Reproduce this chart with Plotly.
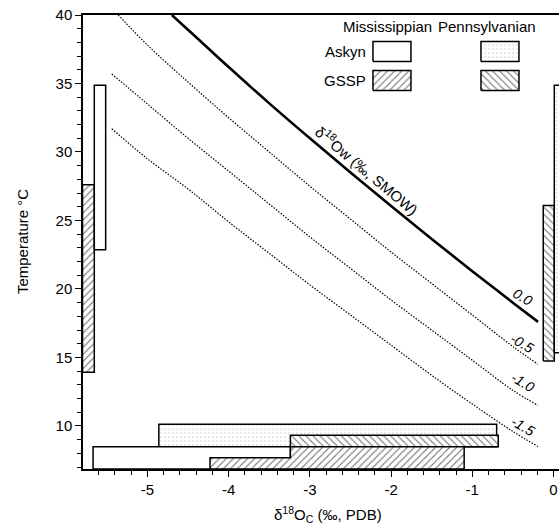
import plotly.graph_objects as go

# ---------------- data ----------------
# Temperature ranges (deg C)
miss_askyn_T = [22.86, 34.87]
miss_gssp_T = [13.92, 27.61]
penn_askyn_T = [15.35, 34.87]
penn_gssp_T = [14.74, 26.10]

# d18O carbonate ranges (permil PDB)
miss_askyn_O = [-5.67, -3.24]
miss_gssp_O = [-4.23, -1.10]
penn_askyn_O = [-4.86, -0.70]
penn_gssp_O = [-3.24, -0.68]

# d18O water isolines (x = d18Oc, y = temperature)
iso_labels = ["0.0", "-0.5", "-1.0", "-1.5"]
iso0_x = [-4.70, -4.4, -4.0, -3.5, -3.0, -2.5, -2.0, -1.5, -1.0, -0.5, -0.19]
iso0_y = [40.0, 38.38, 36.2, 33.55, 31.0, 28.5, 26.05, 23.65, 21.3, 19.0, 17.6]
iso1_x = [-5.36, -5.0, -4.5, -4.0, -3.5, -3.0, -2.5, -2.0, -1.5, -1.0, -0.5, -0.19]
iso1_y = [40.0, 37.8, 35.1, 32.5, 30.0, 27.5, 25.1, 22.7, 20.4, 18.1, 15.8, 14.5]
iso2_x = [-5.44, -5.0, -4.5, -4.0, -3.5, -3.0, -2.5, -2.0, -1.5, -1.0, -0.5, -0.19]
iso2_y = [35.7, 33.5, 31.0, 28.6, 26.2, 23.8, 21.5, 19.2, 17.0, 14.8, 12.6, 11.5]
iso3_x = [-5.44, -5.0, -4.5, -4.0, -3.5, -3.0, -2.5, -2.0, -1.5, -1.0, -0.5, -0.19]
iso3_y = [31.7, 29.5, 27.3, 24.9, 22.6, 20.3, 18.1, 15.9, 13.7, 11.6, 9.6, 8.5]

x_tick_vals = [-5, -4, -3, -2, -1, 0]
x_tick_text = ["-5", "-4", "-3", "-2", "-1", "0"]
y_tick_vals = [10, 15, 20, 25, 30, 35, 40]

# ---------------- layout constants ----------------
XR = [-5.794, 0.068]
YR = [6.86, 40.0]
FONT = "Liberation Sans, Arial, sans-serif"

PAT_MISS_GSSP = dict(shape="/", size=5, solidity=0.22, fgcolor="black", bgcolor="white")
PAT_PENN_GSSP = dict(shape="\\", size=5, solidity=0.22, fgcolor="black", bgcolor="white")
PAT_PENN_ASKYN = dict(shape=".", size=4, solidity=0.06, fgcolor="#333333", bgcolor="white")

fig = go.Figure()


def poly(xs, ys, pattern=None):
    kw = dict(x=xs + [xs[0]], y=ys + [ys[0]], mode="lines", fill="toself",
              fillcolor="white", line=dict(color="black", width=1.5),
              hoverinfo="skip", showlegend=False)
    if pattern is not None:
        kw["fillpattern"] = pattern
    fig.add_trace(go.Scatter(**kw))


def rect(x0, x1, y0, y1, pattern=None):
    poly([x0, x0, x1, x1], [y0, y1, y1, y0], pattern)


# isolines
fig.add_trace(go.Scatter(x=iso0_x, y=iso0_y, mode="lines",
                         line=dict(color="black", width=2.6, shape="spline"),
                         hoverinfo="skip", showlegend=False))
for xs, ys in [(iso1_x, iso1_y), (iso2_x, iso2_y), (iso3_x, iso3_y)]:
    fig.add_trace(go.Scatter(x=xs, y=ys, mode="lines",
                             line=dict(color="black", width=1.2, dash="1.5px,1.5px", shape="spline"),
                             hoverinfo="skip", showlegend=False))

# vertical temperature bars (left: Mississippian, right: Pennsylvanian)
rect(-5.80, -5.655, miss_gssp_T[0], miss_gssp_T[1], PAT_MISS_GSSP)
rect(-5.655, -5.515, miss_askyn_T[0], miss_askyn_T[1])
rect(-0.126, 0.010, penn_gssp_T[0], penn_gssp_T[1], PAT_PENN_GSSP)
rect(0.010, 0.150, penn_askyn_T[0], penn_askyn_T[1], PAT_PENN_ASKYN)

# horizontal d18O bars along the bottom
rect(penn_askyn_O[0], penn_askyn_O[1], 8.48, 10.12, PAT_PENN_ASKYN)
rect(penn_gssp_O[0], penn_gssp_O[1], 8.48, 9.33, PAT_PENN_GSSP)
rect(miss_askyn_O[0], miss_askyn_O[1], YR[0], 8.48)
poly([miss_gssp_O[0], miss_gssp_O[0], miss_askyn_O[1], miss_askyn_O[1], miss_gssp_O[1], miss_gssp_O[1]],
     [YR[0], 7.68, 7.68, 8.48, 8.48, YR[0]], PAT_MISS_GSSP)

# legend boxes
rect(-2.223, -1.755, 36.60, 38.06)
rect(-2.223, -1.755, 34.48, 35.94, PAT_MISS_GSSP)
rect(-0.893, -0.425, 36.60, 38.06, PAT_PENN_ASKYN)
rect(-0.893, -0.425, 34.48, 35.94, PAT_PENN_GSSP)

ann = []
tf = dict(family=FONT, size=15, color="black")
ann.append(dict(x=-2.04, y=39.16, text="Mississippian", showarrow=False, font=tf, xanchor="center", yanchor="middle"))
ann.append(dict(x=-0.82, y=39.16, text="Pennsylvanian", showarrow=False, font=tf, xanchor="center", yanchor="middle"))
ann.append(dict(x=-2.29, y=37.33, text="Askyn", showarrow=False, font=tf, xanchor="right", yanchor="middle"))
ann.append(dict(x=-2.29, y=35.21, text="GSSP", showarrow=False, font=tf, xanchor="right", yanchor="middle"))

# isoline labels
lf = dict(family=FONT, size=14, color="black")
for lab, (lx, ly) in zip(iso_labels, [(-0.376, 19.42), (-0.392, 16.04), (-0.38, 13.23), (-0.38, 10.01)]):
    ann.append(dict(x=lx, y=ly, text="<i>%s</i>" % lab, showarrow=False, font=lf, textangle=30,
                    xanchor="center", yanchor="middle"))

ann.append(dict(x=-2.30, y=28.7, text="δ<sup>18</sup>Ow (‰, SMOW)", showarrow=False,
                font=dict(family=FONT, size=15, color="black"), textangle=40,
                xanchor="center", yanchor="middle"))

# axis titles
ann.append(dict(xref="paper", yref="paper", x=-0.128, y=0.5, text="Temperature °C", showarrow=False,
                font=tf, textangle=-90, xanchor="center", yanchor="middle"))
ann.append(dict(xref="paper", yref="paper", x=0.515, y=-0.101, text="δ<sup>18</sup>O<sub>C</sub> (‰, PDB)",
                showarrow=False, font=tf, xanchor="center", yanchor="middle"))

fig.update_layout(
    width=559, height=529,
    margin=dict(l=83, r=0, t=15, b=60, pad=0),
    paper_bgcolor="white", plot_bgcolor="white",
    font=dict(family=FONT, size=15, color="black"),
    annotations=ann,
    xaxis=dict(range=XR, showgrid=False, zeroline=False, showline=True, linecolor="black", linewidth=1.5,
               mirror=True, ticks="outside", ticklen=6, tickwidth=1.2, tickcolor="black",
               tickmode="array", tickvals=x_tick_vals, ticktext=x_tick_text,
               ticklabeloverflow="allow",
               tickfont=dict(family=FONT, size=15, color="black"),
               minor=dict(tickmode="linear", tick0=0, dtick=0.2, ticks="outside", ticklen=4,
                          tickwidth=1, tickcolor="black")),
    yaxis=dict(range=YR, showgrid=False, zeroline=False, showline=True, linecolor="black", linewidth=1.5,
               ticks="outside", ticklen=6, tickwidth=1.2, tickcolor="black",
               tickmode="array", tickvals=y_tick_vals,
               ticklabeloverflow="allow",
               tickfont=dict(family=FONT, size=15, color="black"),
               minor=dict(tickmode="linear", tick0=0, dtick=1, ticks="outside", ticklen=4,
                          tickwidth=1, tickcolor="black")),
)

# remove the default page margin so the 559x529 figure fills the window exactly
fig.write_html("out.html", config={"displayModeBar": False},
               post_script="document.body.style.margin='0';document.body.style.overflow='hidden';")
